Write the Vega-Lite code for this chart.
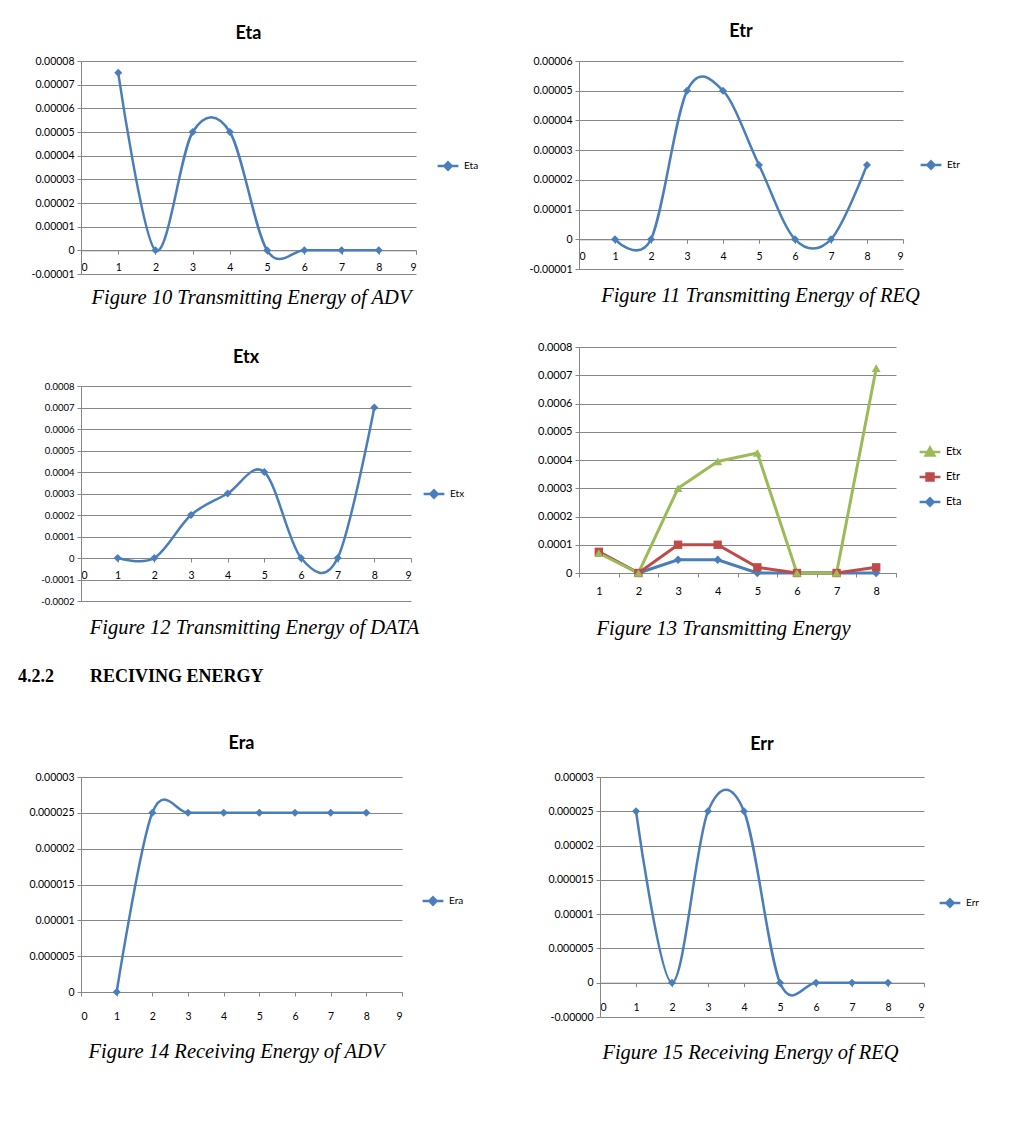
{
  "$schema": "https://vega.github.io/schema/vega-lite/v6.json",
  "background": "white",
  "padding": {"left": 17, "top": 23, "right": 5, "bottom": 5},
  "spacing": 29,
  "resolve": {"scale": {"color": "independent"}, "legend": {"color": "independent"}},
  "vconcat": [
    {
      "spacing": 50,
      "resolve": {"scale": {"color": "independent"}, "legend": {"color": "independent"}},
      "hconcat": [
        {
          "spacing": 35,
          "resolve": {"scale": {"color": "independent"}, "legend": {"color": "independent"}},
          "vconcat": [
            {
              "width": 335, "height": 213,
              "title": {"text": "Eta", "offset": 13},
              "data": {"values": [
                {"node": 1, "energy": 0.000075, "series": "Eta"},
                {"node": 2, "energy": 0, "series": "Eta"},
                {"node": 3, "energy": 0.00005, "series": "Eta"},
                {"node": 4, "energy": 0.00005, "series": "Eta"},
                {"node": 5, "energy": 0, "series": "Eta"},
                {"node": 6, "energy": 0, "series": "Eta"},
                {"node": 7, "energy": 0, "series": "Eta"},
                {"node": 8, "energy": 0, "series": "Eta"}
              ]},
              "encoding": {
                "x": {"field": "node", "type": "quantitative", "scale": {"domain": [0, 9], "nice": false, "zero": false},
                  "axis": {"values": [0, 1, 2, 3, 4, 5, 6, 7, 8, 9], "format": "d", "offset": -23.7, "labelPadding": 8,
                    "title": "Figure 10 Transmitting Energy of ADV", "titleX": 170, "titleY": 47, "titleBaseline": "middle"}},
                "y": {"field": "energy", "type": "quantitative", "scale": {"domain": [-0.00001, 0.00008], "nice": false},
                  "axis": {"values": [-0.00001, 0, 0.00001, 0.00002, 0.00003, 0.00004, 0.00005, 0.00006, 0.00007, 0.00008], "format": ".5~f", "labelExpr": "replace(datum.label, '\u2212', '-')", "title": null}},
                "color": {"field": "series", "type": "nominal", "scale": {"range": ["#4a7ebb"]},
                  "legend": {"orient": "none", "legendX": 357, "legendY": 95, "title": null, "symbolSize": 300, "symbolStrokeWidth": 2.5, "labelOffset": 6,
                    "encode": {"symbols": {"update": {"shape": {"value": "M-1.2,0H1.2M0,-0.42L0.42,0L0,0.42L-0.42,0Z"}, "fill": {"value": "#4a7ebb"}, "stroke": {"value": "#4a7ebb"}}}}}}
              },
              "layer": [
                {"mark": {"type": "line", "interpolate": "cardinal", "strokeWidth": 2.5}},
                {"mark": {"type": "point", "shape": "diamond", "filled": true, "size": 64, "opacity": 1}}
              ]
            },
            {
              "width": 330, "height": 215,
              "title": {"text": ["", "Etx"], "offset": 14, "lineHeight": 6},
              "data": {"values": [
                {"node": 1, "energy": 0, "series": "Etx"},
                {"node": 2, "energy": 0, "series": "Etx"},
                {"node": 3, "energy": 0.0002, "series": "Etx"},
                {"node": 4, "energy": 0.0003, "series": "Etx"},
                {"node": 5, "energy": 0.0004, "series": "Etx"},
                {"node": 6, "energy": 0, "series": "Etx"},
                {"node": 7, "energy": 0, "series": "Etx"},
                {"node": 8, "energy": 0.0007, "series": "Etx"}
              ]},
              "encoding": {
                "x": {"field": "node", "type": "quantitative", "scale": {"domain": [0, 9], "nice": false, "zero": false},
                  "axis": {"values": [0, 1, 2, 3, 4, 5, 6, 7, 8, 9], "format": "d", "offset": -43, "labelPadding": 8,
                    "title": "Figure 12 Transmitting Energy of DATA", "titleX": 173, "titleY": 69, "titleBaseline": "middle"}},
                "y": {"field": "energy", "type": "quantitative", "scale": {"domain": [-0.0002, 0.0008], "nice": false},
                  "axis": {"values": [-0.0002, -0.0001, 0, 0.0001, 0.0002, 0.0003, 0.0004, 0.0005, 0.0006, 0.0007, 0.0008], "format": ".4~f", "labelFontSize": 9.5, "labelExpr": "replace(datum.label, '\u2212', '-')", "title": null}},
                "color": {"field": "series", "type": "nominal", "scale": {"range": ["#4a7ebb"]},
                  "legend": {"orient": "none", "legendX": 343, "legendY": 98, "title": null, "symbolSize": 300, "symbolStrokeWidth": 2.5, "labelOffset": 6,
                    "encode": {"symbols": {"update": {"shape": {"value": "M-1.2,0H1.2M0,-0.42L0.42,0L0,0.42L-0.42,0Z"}, "fill": {"value": "#4a7ebb"}, "stroke": {"value": "#4a7ebb"}}}}}}
              },
              "layer": [
                {"mark": {"type": "line", "interpolate": "cardinal", "strokeWidth": 2.5}},
                {"mark": {"type": "point", "shape": "diamond", "filled": true, "size": 64, "opacity": 1}}
              ]
            }
          ]
        },
        {
          "spacing": 35,
          "resolve": {"scale": {"color": "independent"}, "legend": {"color": "independent"}},
          "vconcat": [
            {
              "width": 324, "height": 208,
              "title": {"text": "Etr", "offset": 15},
              "data": {"values": [
                {"node": 1, "energy": 0, "series": "Etr"},
                {"node": 2, "energy": 0, "series": "Etr"},
                {"node": 3, "energy": 0.00005, "series": "Etr"},
                {"node": 4, "energy": 0.00005, "series": "Etr"},
                {"node": 5, "energy": 0.000025, "series": "Etr"},
                {"node": 6, "energy": 0, "series": "Etr"},
                {"node": 7, "energy": 0, "series": "Etr"},
                {"node": 8, "energy": 0.000025, "series": "Etr"}
              ]},
              "encoding": {
                "x": {"field": "node", "type": "quantitative", "scale": {"domain": [0, 9], "nice": false, "zero": false},
                  "axis": {"values": [0, 1, 2, 3, 4, 5, 6, 7, 8, 9], "format": "d", "offset": -29.7, "labelPadding": 8,
                    "title": "Figure 11 Transmitting Energy of REQ", "titleX": 181, "titleY": 56, "titleBaseline": "middle"}},
                "y": {"field": "energy", "type": "quantitative", "scale": {"domain": [-0.00001, 0.00006], "nice": false},
                  "axis": {"values": [-0.00001, 0, 0.00001, 0.00002, 0.00003, 0.00004, 0.00005, 0.00006], "format": ".5~f", "labelExpr": "replace(datum.label, '\u2212', '-')", "title": null}},
                "color": {"field": "series", "type": "nominal", "scale": {"range": ["#4a7ebb"]},
                  "legend": {"orient": "none", "legendX": 342, "legendY": 94, "title": null, "symbolSize": 300, "symbolStrokeWidth": 2.5, "labelOffset": 6,
                    "encode": {"symbols": {"update": {"shape": {"value": "M-1.2,0H1.2M0,-0.42L0.42,0L0,0.42L-0.42,0Z"}, "fill": {"value": "#4a7ebb"}, "stroke": {"value": "#4a7ebb"}}}}}}
              },
              "layer": [
                {"mark": {"type": "line", "interpolate": "cardinal", "strokeWidth": 2.5}},
                {"mark": {"type": "point", "shape": "diamond", "filled": true, "size": 64, "opacity": 1}}
              ]
            },
            {
              "width": 317, "height": 226,
              "data": {"values": [
                {"node": 1, "energy": 0.000075, "series": "Eta"},
                {"node": 2, "energy": 0, "series": "Eta"},
                {"node": 3, "energy": 0.000047, "series": "Eta"},
                {"node": 4, "energy": 0.000047, "series": "Eta"},
                {"node": 5, "energy": 0, "series": "Eta"},
                {"node": 6, "energy": 0, "series": "Eta"},
                {"node": 7, "energy": 0, "series": "Eta"},
                {"node": 8, "energy": 0, "series": "Eta"},
                {"node": 1, "energy": 0.000075, "series": "Etr"},
                {"node": 2, "energy": 0, "series": "Etr"},
                {"node": 3, "energy": 0.0001, "series": "Etr"},
                {"node": 4, "energy": 0.0001, "series": "Etr"},
                {"node": 5, "energy": 0.00002, "series": "Etr"},
                {"node": 6, "energy": 0, "series": "Etr"},
                {"node": 7, "energy": 0, "series": "Etr"},
                {"node": 8, "energy": 0.00002, "series": "Etr"},
                {"node": 1, "energy": 0.00007, "series": "Etx"},
                {"node": 2, "energy": 0, "series": "Etx"},
                {"node": 3, "energy": 0.0003, "series": "Etx"},
                {"node": 4, "energy": 0.000395, "series": "Etx"},
                {"node": 5, "energy": 0.000425, "series": "Etx"},
                {"node": 6, "energy": 0, "series": "Etx"},
                {"node": 7, "energy": 0, "series": "Etx"},
                {"node": 8, "energy": 0.000725, "series": "Etx"}
              ]},
              "encoding": {
                "x": {"field": "node", "type": "ordinal", "bandPosition": 0.5, "scale": {"type": "band", "paddingInner": 0, "paddingOuter": 0},
                  "axis": {"tickBand": "extent", "labelAngle": 0, "labelFontSize": 11, "labelPadding": 8,
                    "title": "Figure 13 Transmitting Energy", "titleX": 144, "titleY": 55, "titleBaseline": "middle"}},
                "y": {"field": "energy", "type": "quantitative", "scale": {"domain": [0, 0.0008], "nice": false},
                  "axis": {"values": [0, 0.0001, 0.0002, 0.0003, 0.0004, 0.0005, 0.0006, 0.0007, 0.0008], "format": ".4~f", "labelFontSize": 11, "title": null}},
                "color": {"field": "series", "type": "nominal", "scale": {"domain": ["Etx", "Etr", "Eta"], "range": ["#9bbb59", "#be4b48", "#4a7ebb"]},
                  "legend": {"orient": "none", "legendX": 341, "legendY": 95, "title": null, "symbolSize": 300, "symbolStrokeWidth": 2.5, "labelOffset": 6, "labelFontSize": 11, "rowPadding": 6,
                    "encode": {"symbols": {"update": {
                      "shape": {"signal": "datum.value === 'Etx' ? 'M-1.2,0H1.2M0,-0.5L0.5,0.4L-0.5,0.4Z' : datum.value === 'Etr' ? 'M-1.2,0H1.2M-0.4,-0.4H0.4V0.4H-0.4Z' : 'M-1.2,0H1.2M0,-0.42L0.42,0L0,0.42L-0.42,0Z'"},
                      "fill": {"scale": "color", "field": "value"}, "stroke": {"scale": "color", "field": "value"}}}}}}
              },
              "layer": [
                {"mark": {"type": "line", "strokeWidth": 3}},
                {"transform": [{"filter": "datum.series === 'Eta'"}], "mark": {"type": "point", "shape": "diamond", "filled": true, "size": 70, "opacity": 1}},
                {"transform": [{"filter": "datum.series === 'Etr'"}], "mark": {"type": "point", "shape": "square", "filled": true, "size": 70, "opacity": 1}},
                {"transform": [{"filter": "datum.series === 'Etx'"}], "mark": {"type": "point", "shape": "triangle-up", "filled": true, "size": 80, "opacity": 1}}
              ]
            }
          ]
        }
      ]
    },
    {
      "spacing": 83,
      "resolve": {"scale": {"color": "independent"}, "legend": {"color": "independent"}},
      "title": {"text": "4.2.2\u00a0\u00a0\u00a0\u00a0\u00a0\u00a0\u00a0\u00a0RECIVING ENERGY", "anchor": "start", "font": "Liberation Serif", "fontSize": 18, "fontWeight": "bold", "offset": 49, "dx": -11},
      "hconcat": [
        {
          "width": 321, "height": 215,
          "title": {"text": "Era", "offset": 19},
          "data": {"values": [
            {"node": 1, "energy": 0, "series": "Era"},
            {"node": 2, "energy": 0.000025, "series": "Era"},
            {"node": 3, "energy": 0.000025, "series": "Era"},
            {"node": 4, "energy": 0.000025, "series": "Era"},
            {"node": 5, "energy": 0.000025, "series": "Era"},
            {"node": 6, "energy": 0.000025, "series": "Era"},
            {"node": 7, "energy": 0.000025, "series": "Era"},
            {"node": 8, "energy": 0.000025, "series": "Era"}
          ]},
          "encoding": {
            "x": {"field": "node", "type": "quantitative", "scale": {"domain": [0, 9], "nice": false, "zero": false},
              "axis": {"values": [0, 1, 2, 3, 4, 5, 6, 7, 8, 9], "format": "d", "labelPadding": 15,
                "title": "Figure 14 Receiving Energy of ADV", "titleX": 155, "titleY": 59, "titleBaseline": "middle"}},
            "y": {"field": "energy", "type": "quantitative", "scale": {"domain": [0, 0.00003], "nice": false},
              "axis": {"values": [0, 0.000005, 0.00001, 0.000015, 0.00002, 0.000025, 0.00003], "format": ".6~f", "title": null}},
            "color": {"field": "series", "type": "nominal", "scale": {"range": ["#4a7ebb"]},
              "legend": {"orient": "none", "legendX": 342, "legendY": 114, "title": null, "symbolSize": 300, "symbolStrokeWidth": 2.5, "labelOffset": 6,
                "encode": {"symbols": {"update": {"shape": {"value": "M-1.2,0H1.2M0,-0.42L0.42,0L0,0.42L-0.42,0Z"}, "fill": {"value": "#4a7ebb"}, "stroke": {"value": "#4a7ebb"}}}}}}
          },
          "layer": [
            {"mark": {"type": "line", "interpolate": "cardinal", "strokeWidth": 2.5}},
            {"mark": {"type": "point", "shape": "diamond", "filled": true, "size": 64, "opacity": 1}}
          ]
        },
        {
          "width": 324, "height": 240,
          "title": {"text": "Err", "offset": 18},
          "data": {"values": [
            {"node": 1, "energy": 0.000025, "series": "Err"},
            {"node": 2, "energy": 0, "series": "Err"},
            {"node": 3, "energy": 0.000025, "series": "Err"},
            {"node": 4, "energy": 0.000025, "series": "Err"},
            {"node": 5, "energy": 0, "series": "Err"},
            {"node": 6, "energy": 0, "series": "Err"},
            {"node": 7, "energy": 0, "series": "Err"},
            {"node": 8, "energy": 0, "series": "Err"}
          ]},
          "encoding": {
            "x": {"field": "node", "type": "quantitative", "scale": {"domain": [0, 9], "nice": false, "zero": false},
              "axis": {"values": [0, 1, 2, 3, 4, 5, 6, 7, 8, 9], "format": "d", "offset": -34.3, "labelPadding": 16,
                "title": "Figure 15 Receiving Energy of REQ", "titleX": 150, "titleY": 70, "titleBaseline": "middle"}},
            "y": {"field": "energy", "type": "quantitative", "scale": {"domain": [-0.000005, 0.00003], "nice": false},
              "axis": {"values": [-0.000005, 0, 0.000005, 0.00001, 0.000015, 0.00002, 0.000025, 0.00003], "format": ".6~f", "labelExpr": "datum.value < 0 ? '-0.00000' : datum.label", "title": null}},
            "color": {"field": "series", "type": "nominal", "scale": {"range": ["#4a7ebb"]},
              "legend": {"orient": "none", "legendX": 340, "legendY": 116, "title": null, "symbolSize": 300, "symbolStrokeWidth": 2.5, "labelOffset": 6,
                "encode": {"symbols": {"update": {"shape": {"value": "M-1.2,0H1.2M0,-0.42L0.42,0L0,0.42L-0.42,0Z"}, "fill": {"value": "#4a7ebb"}, "stroke": {"value": "#4a7ebb"}}}}}}
          },
          "layer": [
            {"mark": {"type": "line", "interpolate": "cardinal", "strokeWidth": 2.5}},
            {"mark": {"type": "point", "shape": "diamond", "filled": true, "size": 64, "opacity": 1}}
          ]
        }
      ]
    }
  ],
  "config": {
    "view": {"stroke": null},
    "font": "Lato",
    "title": {"font": "Lato", "fontSize": 18, "fontWeight": "bold", "color": "#000000"},
    "axis": {"labelFont": "Lato", "labelFontSize": 10.5, "labelColor": "#000000", "domainColor": "#868686", "tickColor": "#868686", "gridColor": "#868686", "tickSize": 4,
      "titleFont": "Liberation Serif", "titleFontStyle": "italic", "titleFontWeight": "normal", "titleFontSize": 20.5, "titleColor": "#000000"},
    "axisY": {"grid": true, "labelPadding": 3},
    "axisX": {"grid": false},
    "legend": {"labelFont": "Lato", "labelFontSize": 10, "labelColor": "#000000", "padding": 0}
  }
}
